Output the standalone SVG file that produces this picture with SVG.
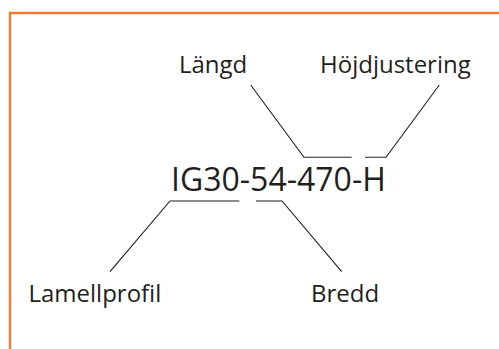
<svg xmlns="http://www.w3.org/2000/svg" width="499" height="349" viewBox="0 0 499 349">
<style>
.t{font-family:"Open Sans","Liberation Sans",sans-serif;fill:#231f20;font-size:24px}
.big{font-size:32px}
.c{fill:none;stroke:#231f20;stroke-width:1.1}
</style>
<rect width="499" height="349" fill="#fff"/>
<path d="M10,352 V13 H502" fill="none" stroke="#f47a2e" stroke-width="2.4"/>
<g id="code"><text class="t big" x="171" y="191">IG30-54-470-H</text></g>
<g id="langd"><text class="t" x="179" y="72.5">Längd</text></g>
<g id="hojd"><text class="t" x="320" y="72.5">Höjdjustering</text></g>
<g id="lamell"><text class="t" x="28.5" y="302">Lamellprofil</text></g>
<g id="bredd"><text class="t" x="311" y="302">Bredd</text></g>
<g id="connectors">
<polyline class="c" points="250.7,85 304,157.3 351.7,157.3"/>
<polyline class="c" points="365,157.3 386,157.3 439.3,85"/>
<polyline class="c" points="239.3,201 170,201 110,271.7"/>
<polyline class="c" points="256,201 282,201 341.7,271.7"/>
</g>
</svg>
